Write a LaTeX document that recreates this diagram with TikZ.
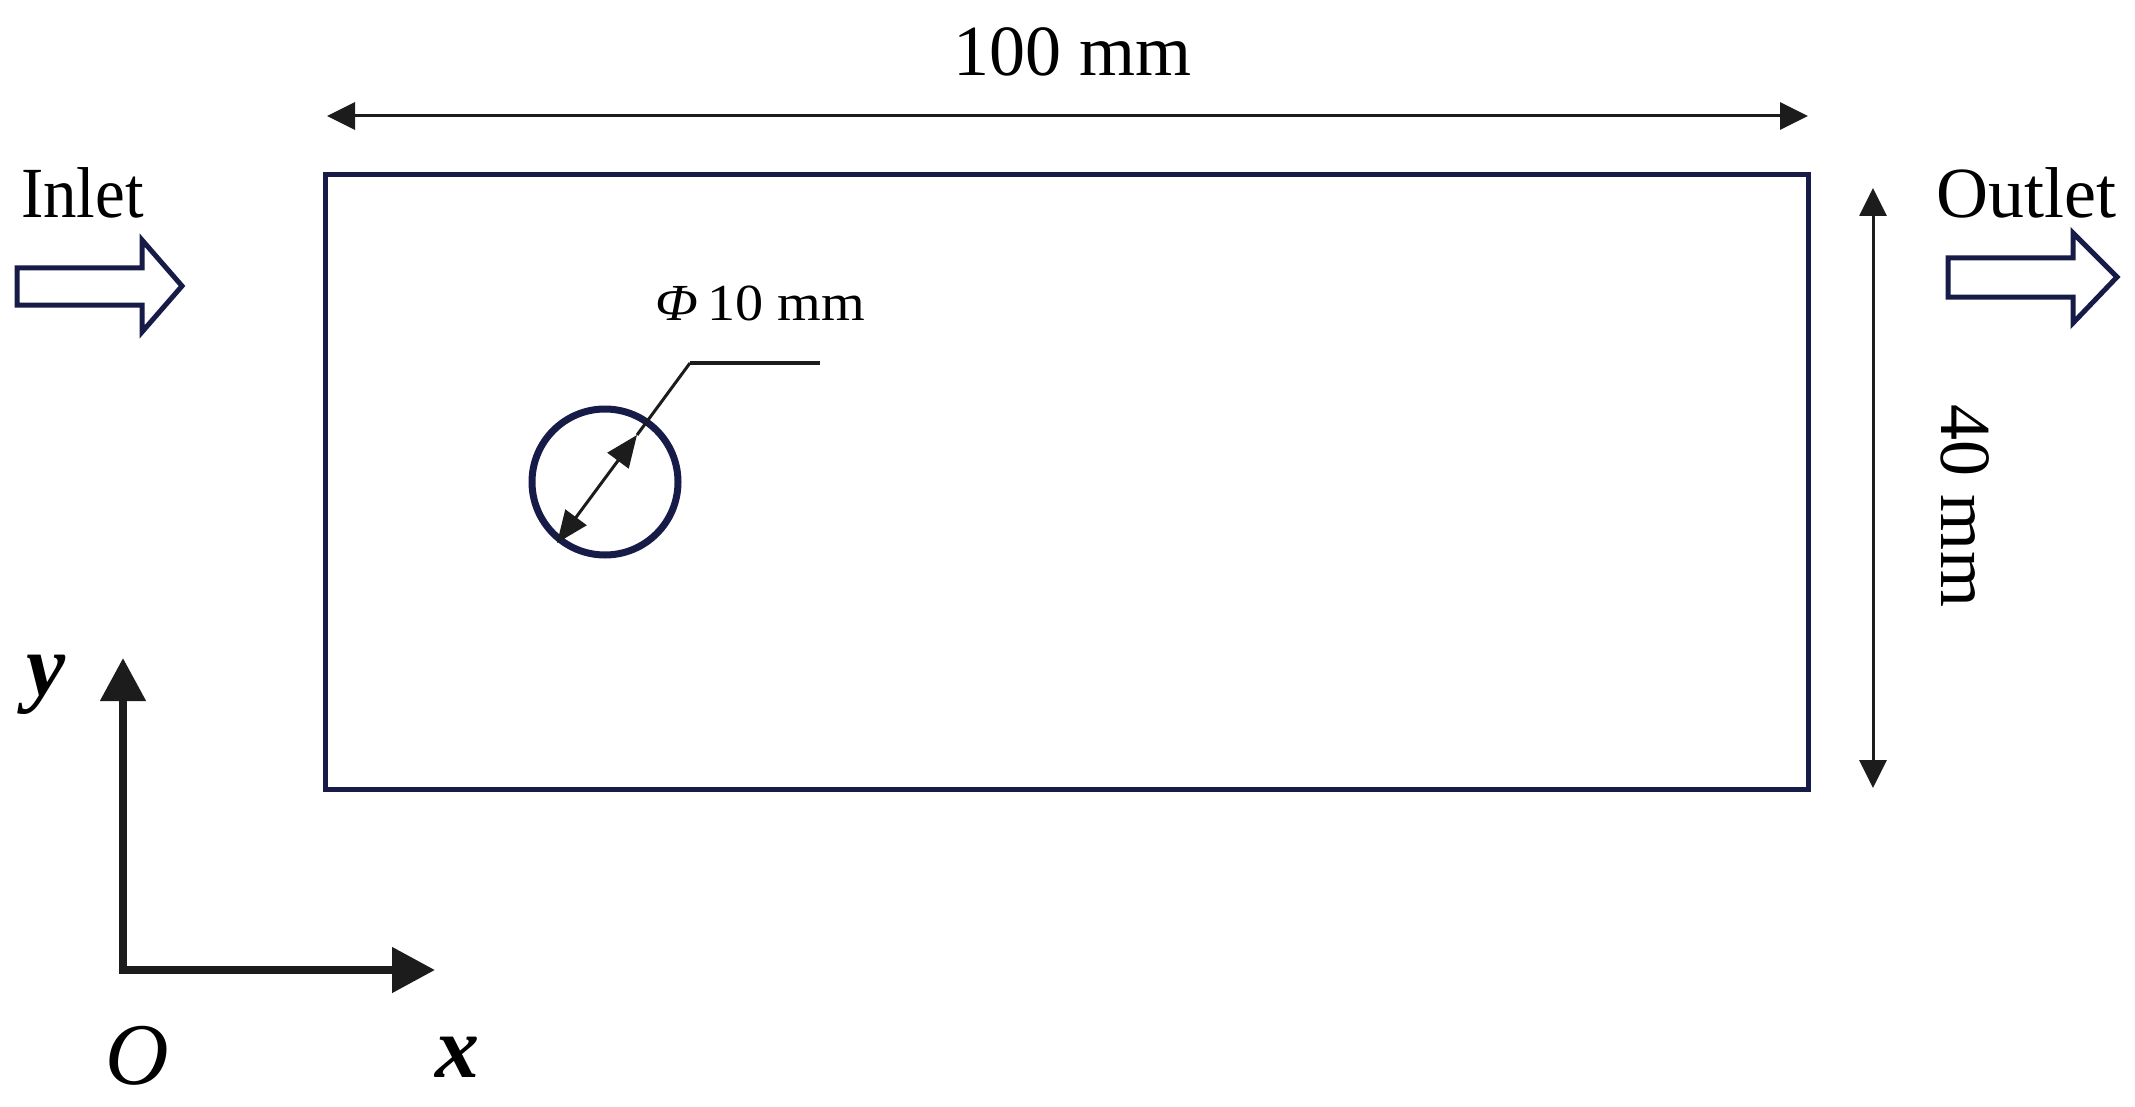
\documentclass[tikz,border=0pt]{standalone}
\usepackage{fontspec}
\setmainfont{Liberation Serif}
\usetikzlibrary{arrows.meta}
\definecolor{navy}{RGB}{22,27,72}
\definecolor{ink}{RGB}{28,28,28}
\tikzset{
  wall/.style={draw=navy,line width=5pt},
  flowarrow/.style={draw=navy,line width=5pt,line join=miter,fill=white},
  dimline/.style={draw=ink,line width=3pt,{Triangle[length=28pt,width=27pt]}-{Triangle[length=28pt,width=27pt]}},
  axisline/.style={draw=ink,line width=8pt,-{Triangle[length=43pt,width=44pt]}},
  bigtxt/.style={inner sep=0pt,font=\fontsize{72}{86}\selectfont},
  axtxt/.style={inner sep=0pt,font=\fontsize{88}{100}\selectfont},
}
\begin{document}
\begin{tikzpicture}[x=1pt,y=-1pt]
\useasboundingbox (0,0) rectangle (2135,1107);
% domain and cylinder
\node[wall,rectangle,minimum width=1483pt,minimum height=614pt,inner sep=0pt] (dom) at (1066.5,482) {};
\node[draw=navy,line width=7pt,circle,minimum size=146pt,inner sep=0pt] (cyl) at (605,482) {};
% dimension 100 mm
\coordinate (tl) at (327,116);
\coordinate (tr) at (1808,116);
\draw[dimline] (tl) -- (tr);
\node[bigtxt,anchor=base] (len) at (1072,76) {100 mm};
% dimension 40 mm
\coordinate (vt) at (1873,188);
\coordinate (vb) at (1873,788);
\draw[dimline] (vt) -- (vb);
\node[bigtxt,anchor=base,rotate=-90] (hei) at (1941,506) {40 mm};
% inlet / outlet
\node[bigtxt,anchor=base west] (inl) at (21,218) {\scalebox{0.93}[1]{Inlet}};
\node[bigtxt,anchor=base west] (outl) at (1936,218) {Outlet};
\draw[flowarrow] (17,268) -- (142,268) -- (142,240) -- (182,286) -- (142,332) -- (142,305) -- (17,305) -- cycle;
\draw[flowarrow] (1948,258) -- (2073,258) -- (2073,233) -- (2117,277) -- (2073,323) -- (2073,297) -- (1948,297) -- cycle;
% diameter
\coordinate (dlo) at (557,543);
\coordinate (dup) at (637,435);
\coordinate (dld) at (690,363);
\coordinate (dle) at (820,363);
\draw[draw=ink,line width=3pt,{Triangle[length=32pt,width=26pt]}-{Triangle[length=32pt,width=26pt]}] (dlo) -- (dup);
\draw[draw=ink,line width=3pt] (dup) -- (dld);
\draw[draw=ink,line width=4pt] (dld) -- (dle);
\node[inner sep=0pt,anchor=base west,font=\fontsize{52}{62}\selectfont] (dia) at (655,320) {\scalebox{1.08}[1]{{\itshape Φ}\,10 mm}};
% axes
\coordinate (ori) at (123,970);
\coordinate (ytip) at (123,658);
\coordinate (xtip) at (435,970);
\draw[axisline] ([yshift=4pt]ori) -- (ytip);
\draw[axisline] ([xshift=-4pt]ori) -- (xtip);
\node[axtxt] (ylab) at (46,685) {\bfseries\itshape y};
\node[axtxt] (olab) at (137,1056) {\itshape O};
\node[axtxt] (xlab) at (457,1057) {\bfseries\itshape x};
\end{tikzpicture}
\end{document}
